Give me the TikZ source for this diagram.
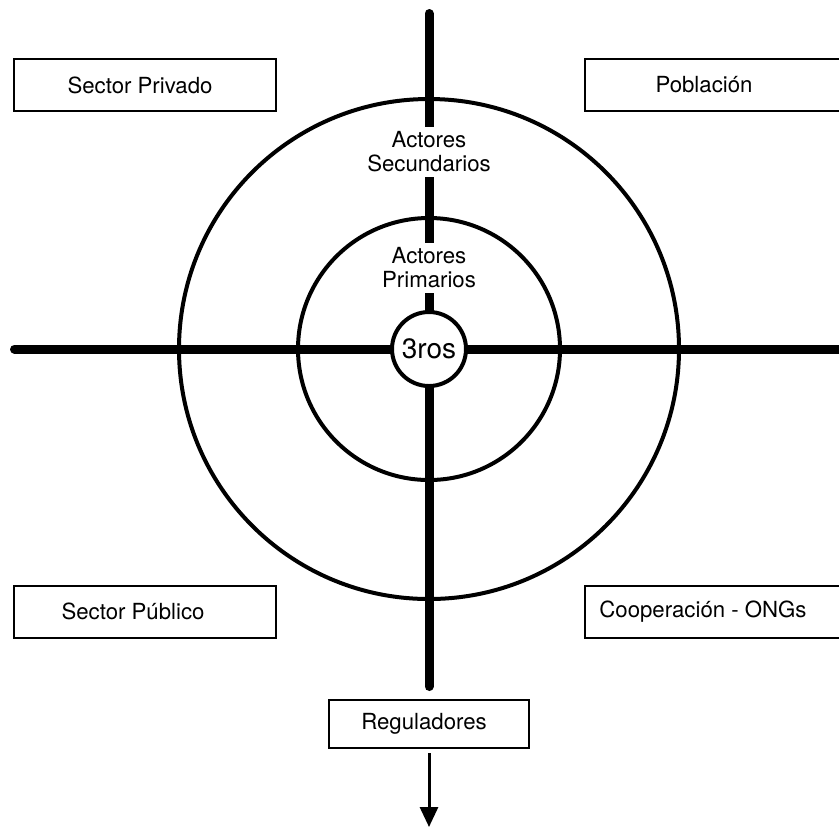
\documentclass[tikz,border=0pt]{standalone}
\usepackage{fontspec}
\setmainfont{TeX Gyre Heros}
\usetikzlibrary{arrows.meta,backgrounds}

\begin{document}
\begin{tikzpicture}[x=0.5pt,y=-0.5pt,
    actor/.style={draw,line width=1pt,minimum width=131pt,minimum height=26pt,inner sep=0pt,font=\fontsize{11.1}{12}\selectfont},
    level/.style={align=center,fill=white,inner sep=2.5pt,font=\fontsize{11.1}{12}\selectfont},
    ring/.style={line width=2pt},
    axis/.style={line width=4.5pt,line cap=round}]
    \useasboundingbox (0,0) rectangle (839,827);

    \coordinate (O) at (429,349);
    \draw[ring] (O) circle[radius=125pt];
    \draw[ring] (O) circle[radius=65.5pt];
    \node[circle,draw,ring,fill=white,minimum size=37pt,inner sep=0pt,font=\fontsize{14}{16}\selectfont] (ter) at (O) {3ros};

    \node[level] (sec) at (429,152) {Actores\\Secundarios};
    \node[level] (pri) at (429,268) {Actores\\Primarios};

    \coordinate (N) at (429,13.5);
    \coordinate (S) at (429,686.5);
    \coordinate (W) at (14.5,349);
    \coordinate (E) at (850,349);
    \begin{pgfonlayer}{background}
        \draw[axis] (N) -- (S);
        \draw[axis] (W) -- (E);
    \end{pgfonlayer}

    \node[actor] (priv) at (145,85) {Sector Privado\hspace*{5pt}};
    \node[actor] (pob) at (716,84.5) {Población\hspace*{12pt}};
    \node[actor] (pub) at (145,611.5) {Sector Público\hspace*{12pt}};
    \node[actor] (coop) at (716,611.5) {Cooperación - ONGs\hspace*{13pt}};
    \node[actor,minimum width=100pt,minimum height=24pt] (reg) at (429,724) {Reguladores\hspace*{5pt}};

    \coordinate (fin) at (429,827);
    \draw[line width=1.5pt,-{Triangle[width=9pt,length=10pt]}] ([yshift=-2pt]reg.south) -- (fin);
\end{tikzpicture}
\end{document}
